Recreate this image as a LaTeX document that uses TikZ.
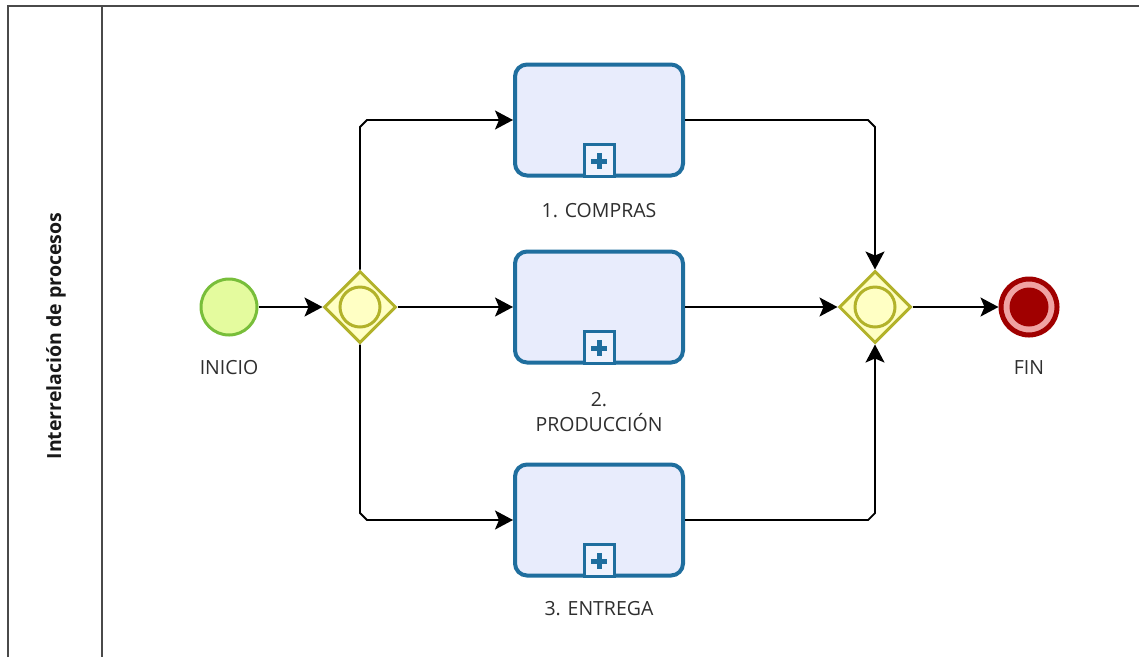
\documentclass[tikz,border=0pt]{standalone}
\usepackage{fontspec}
\setmainfont{Open Sans}
\usetikzlibrary{shapes.geometric,arrows.meta,calc}

\definecolor{taskblue}{HTML}{1F6E9E}
\definecolor{taskfill}{HTML}{E8ECFC}
\definecolor{gwline}{HTML}{B2B22A}
\definecolor{gwfill}{HTML}{FFFFC4}
\definecolor{startline}{HTML}{78BE3A}
\definecolor{startfill}{HTML}{E4FB9E}
\definecolor{endred}{HTML}{A00000}
\definecolor{endpink}{HTML}{F0A3A3}
\definecolor{poolline}{HTML}{4A4A4A}
\definecolor{labeltext}{HTML}{2E2E2E}

\begin{document}
\begin{tikzpicture}[x=1pt,y=-1pt,
  task/.style={draw=taskblue, fill=taskfill, line width=4pt, rounded corners=12pt,
    minimum width=168pt, minimum height=111pt, inner sep=0pt},
  marker/.style={draw=taskblue, fill=taskfill!70!white, line width=3pt,
    minimum width=30pt, minimum height=32pt, inner sep=0pt},
  gateway/.style={diamond, draw=gwline, fill=gwfill, line width=3pt,
    minimum width=72pt, minimum height=72pt, inner sep=0pt},
  gwring/.style={circle, draw=gwline, fill=gwfill, line width=3pt,
    minimum size=40pt, inner sep=0pt},
  startev/.style={circle, draw=startline, fill=startfill, line width=3pt,
    minimum size=56pt, inner sep=0pt},
  endev/.style={circle, draw=endred, fill=endpink, line width=5pt,
    minimum size=56pt, inner sep=0pt},
  enddot/.style={circle, fill=endred, minimum size=39pt, inner sep=0pt},
  lbl/.style={text=labeltext, font=\fontsize{19.5}{25}\selectfont, inner sep=0pt, align=center},
  lane/.style={text=black!90, font=\fontsize{19.5}{23}\selectfont\bfseries, inner sep=0pt},
  flow/.style={line width=1.8pt, draw=black, -{Stealth[length=18pt,width=19pt,inset=4pt]}},
  plusbar/.style={draw=taskblue, line width=5pt},
  pool/.style={draw=poolline, line width=2pt},
]
\useasboundingbox (0,0) rectangle (1139,657);

% pool and lane header
\coordinate (ptl) at (8,6);
\coordinate (ptr) at (1139,6);
\coordinate (pbl) at (8,657);
\coordinate (dtop) at (102,6);
\coordinate (dbot) at (102,657);
\draw[pool] (pbl) -- (ptl) -- (ptr);
\draw[pool] (dtop) -- (dbot);
\node[lane, rotate=90] (lanetitle) at (56,336) {Interrelación de procesos};

% events and gateways
\node[startev] (start) at (229,307) {};
\node[lbl] (startlbl) at (229,368) {INICIO};

\node[gateway] (g1) at (360,307) {};
\node[gwring] (g1ring) at (g1.center) {};

\node[gateway] (g2) at (875,307) {};
\node[gwring] (g2ring) at (g2.center) {};

\node[endev] (end) at (1029,307) {};
\node[enddot] (enddisk) at (end.center) {};
\node[lbl] (endlbl) at (1029,368) {FIN};

% collapsed sub-processes
\node[task] (t1) at (599,120) {};
\node[task] (t2) at (599,307) {};
\node[task] (t3) at (599,520) {};

\foreach \t in {t1,t2,t3}{
  \node[marker, anchor=south] (\t m) at (\t.south) {};
  \draw[plusbar] ($(\t m.center)+(-8,1)$) -- ($(\t m.center)+(8,1)$);
  \draw[plusbar] ($(\t m.center)+(0,-7)$) -- ($(\t m.center)+(0,9)$);
}

\node[lbl] (t1lbl) at (599,211) {1. COMPRAS};
\node[lbl] (t2lbl) at (599,412) {2.\\PRODUCCIÓN};
\node[lbl] (t3lbl) at (599,609) {3. ENTREGA};

% sequence flows
\draw[flow] (start.east) -- (g1.west);
\draw[flow] (g1.east) -- (t2.west);
\draw[flow] (t2.east) -- (g2.west);
\draw[flow] (g2.east) -- (end.west);

\draw[flow] (g1.north) -- ($(g1.north |- t1.west)+(0,7)$)
  -- ($(g1.north |- t1.west)+(7,0)$) -- (t1.west);
\draw[flow] (g1.south) -- ($(g1.south |- t3.west)+(0,-7)$)
  -- ($(g1.south |- t3.west)+(7,0)$) -- (t3.west);

\draw[flow] (t1.east) -- ($(g2.north |- t1.east)+(-7,0)$)
  -- ($(g2.north |- t1.east)+(0,7)$) -- (g2.north);
\draw[flow] (t3.east) -- ($(g2.south |- t3.east)+(-7,0)$)
  -- ($(g2.south |- t3.east)+(0,-7)$) -- (g2.south);
\end{tikzpicture}
\end{document}
